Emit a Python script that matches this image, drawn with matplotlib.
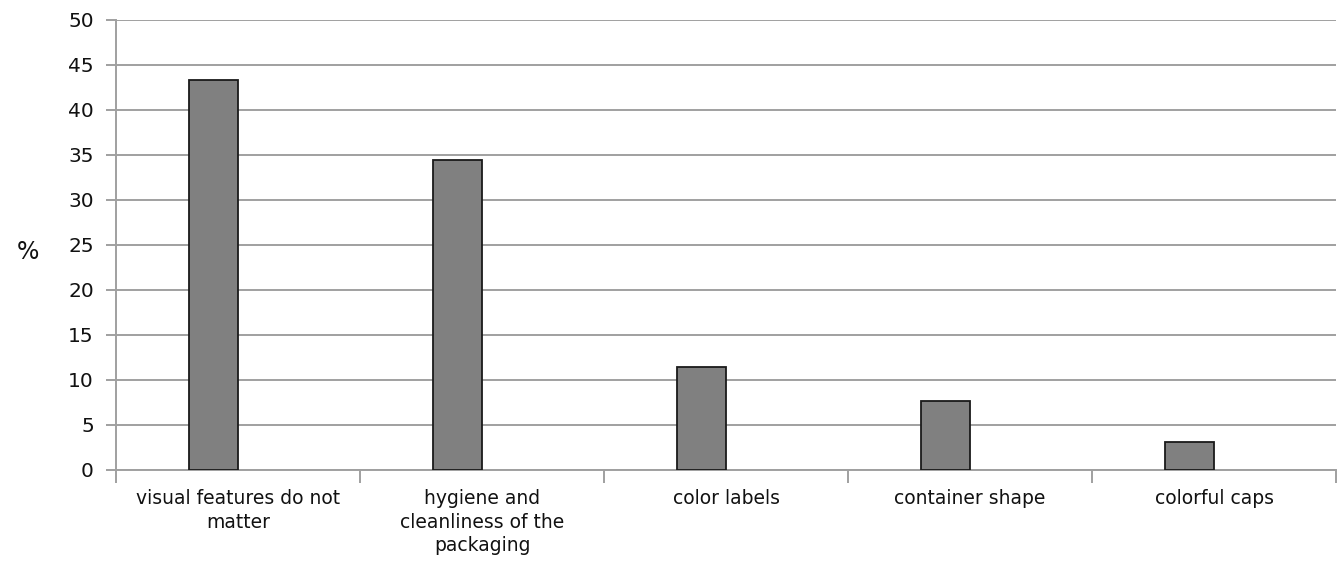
import matplotlib
matplotlib.use('Agg')
import matplotlib.pyplot as plt
import numpy as np

# survey answers, share of respondents in %
categories = [
    'visual features do not\nmatter',
    'hygiene and\ncleanliness of the\npackaging',
    'color labels',
    'container shape',
    'colorful caps',
]
percent = [43.3, 34.4, 11.4, 7.7, 3.1]

GRID = '#a0a0a0'
BAR = '#808080'

plt.rcParams['font.family'] = ['DejaVu Sans']

fig = plt.figure(figsize=(13.38, 5.86), dpi=100)
ax = fig.add_axes([0.0867, 0.198, 0.912, 0.768])

x = np.arange(len(categories))
# bars sit just left of each category centre
ax.bar(x, percent, width=-0.2, align='edge', color=BAR,
       edgecolor='#1a1a1a', linewidth=1.3, zorder=3)

ax.set_xlim(-0.5, len(categories) - 0.5)
ax.set_ylim(0, 50)
ax.set_yticks(np.arange(0, 51, 5))
ax.yaxis.grid(True, color=GRID, linewidth=1.4, zorder=0)

# category separators as ticks on the x axis
ax.set_xticks(np.arange(-0.5, len(categories), 1.0))
ax.set_xticklabels([])
ax.tick_params(axis='x', length=9, width=1.4, color=GRID)
ax.tick_params(axis='y', length=7, width=1.4, color=GRID,
               labelsize=14.5, labelcolor='#111111', pad=9)

for i, lab in enumerate(categories):
    ax.text(i, -2.1, lab, ha='center', va='top', fontsize=13.5,
            color='#111111', linespacing=1.32)

for side in ['top', 'right']:
    ax.spines[side].set_visible(False)
for side in ['left', 'bottom']:
    ax.spines[side].set_color(GRID)
    ax.spines[side].set_linewidth(1.4)

fig.text(0.021, 0.57, '%', fontsize=17, ha='center', va='center', color='#111111')

fig.savefig('out.png', dpi=100, facecolor='white')
plt.close()
